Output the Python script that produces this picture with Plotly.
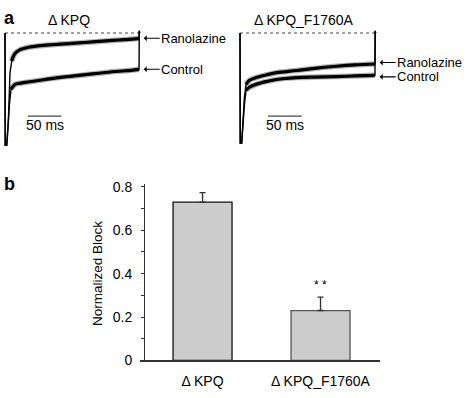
import plotly.graph_objects as go

# ---------------- data ----------------
# Panel a: normalized sodium currents (0 = dotted zero line, -1 = peak), time in ms
t_kpq_ran = [0, 0.3, 2.5, 5, 7.5, 10, 12.5, 16, 22, 35, 50, 70, 90, 110, 130, 150, 170, 190, 200, 200.3, 201]
i_kpq_ran = [0, -1.0, -1.0, -0.78, -0.35, -0.25, -0.207, -0.175, -0.15, -0.127, -0.114, -0.104, -0.096,
             -0.088, -0.079, -0.07, -0.062, -0.054, -0.047, 0.02, 0]

t_kpq_ctl = [0, 0.3, 2.5, 3.5, 6.5, 9, 15, 22, 30, 45, 60, 80, 100, 120, 140, 160, 180, 200, 200.3, 201]
i_kpq_ctl = [0, -1.0, -1.0, -0.93, -0.64, -0.5, -0.457, -0.448, -0.44, -0.427, -0.414, -0.397, -0.384,
             -0.371, -0.358, -0.345, -0.336, -0.323, 0.02, 0]

t_f1760a = [0, 0.3, 2.5, 4.5, 6.5, 9, 14, 24, 40, 54, 84, 110, 143, 170, 200, 200.3, 201]
i_f1760a_ran = [0, -0.98, -0.98, -0.74, -0.57, -0.457, -0.42, -0.397, -0.371, -0.353, -0.334, -0.315,
                -0.296, -0.284, -0.276, 0.02, 0]
i_f1760a_ctl = [0, -0.98, -0.98, -0.784, -0.638, -0.509, -0.483, -0.457, -0.431, -0.414, -0.397, -0.392,
                -0.388, -0.382, -0.377, 0.02, 0]

pulse_ms = [0, 200]
scalebar_ms = 50
scalebar_start = [34, 41.5]

# Panel b: normalized block
bar_categories = ["Δ KPQ", "Δ KPQ_F1760A"]
block_mean = [0.729, 0.23]
block_sem = [0.044, 0.062]
y_tickvals = [0, 0.1, 0.2, 0.3, 0.4, 0.5, 0.6, 0.7, 0.8]
y_ticktext = ["0", "", "0.2", "", "0.4", "", "0.6", "", "0.8"]

# ---------------- figure ----------------
W, H = 472, 398
FONT = "Liberation Sans, Arial, sans-serif"
FS = 14
fig = go.Figure()


def add_panel(xa, ya, series):
    # zero (dotted) line
    fig.add_trace(go.Scatter(x=pulse_ms, y=[0, 0], mode="lines", xaxis=xa, yaxis=ya,
                             line=dict(color="#444", width=1.1, dash="dot"), hoverinfo="skip"))
    for tt, ii in series:
        band_t = [a for a in tt if 8.5 <= a <= 200]
        band_i = [b for a, b in zip(tt, ii) if 8.5 <= a <= 200]
        fig.add_trace(go.Scatter(x=tt, y=ii, mode="lines", xaxis=xa, yaxis=ya,
                                 line=dict(color="black", width=1.4), hoverinfo="skip"))
        fig.add_trace(go.Scatter(x=band_t, y=band_i, mode="lines", xaxis=xa, yaxis=ya,
                                 line=dict(color="rgba(0,0,0,0.3)", width=5.5, shape="spline"),
                                 hoverinfo="skip"))
        fig.add_trace(go.Scatter(x=band_t, y=band_i, mode="lines", xaxis=xa, yaxis=ya,
                                 line=dict(color="black", width=3.2, shape="spline"), hoverinfo="skip"))


add_panel("x", "y", [(t_kpq_ran, i_kpq_ran), (t_kpq_ctl, i_kpq_ctl)])
add_panel("x2", "y2", [(t_f1760a, i_f1760a_ran), (t_f1760a, i_f1760a_ctl)])

fig.add_trace(go.Bar(x=bar_categories, y=block_mean, xaxis="x3", yaxis="y3", width=0.5,
                     marker=dict(color="#cccccc", line=dict(color=["#111111", "#555555"], width=1.3)),
                     error_y=dict(type="data", array=block_sem, arrayminus=[0, 0], symmetric=False,
                                  color="#333", thickness=1.4, width=3),
                     hoverinfo="skip"))

trace_range_x = [-3, 215]
trace_range_y = [-1.05, 0.05]
hidden = dict(visible=False, showgrid=False, zeroline=False, fixedrange=True)

fig.update_layout(
    width=W, height=H, margin=dict(l=0, r=0, t=0, b=0),
    paper_bgcolor="white", plot_bgcolor="rgba(0,0,0,0)", showlegend=False,
    font=dict(family=FONT, size=FS, color="black"),
    xaxis=dict(domain=[3 / W, 149.1 / W], range=trace_range_x, anchor="y", **hidden),
    yaxis=dict(domain=[(H - 150.8) / H, (H - 23.2) / H], range=trace_range_y, anchor="x", **hidden),
    xaxis2=dict(domain=[238 / W, 385.1 / W], range=trace_range_x, anchor="y2", **hidden),
    yaxis2=dict(domain=[(H - 150.8) / H, (H - 23.2) / H], range=trace_range_y, anchor="x2", **hidden),
    xaxis3=dict(domain=[140 / W, 380 / W], range=[-0.53, 1.504], anchor="y3", type="category",
                showline=True, linecolor="#333", linewidth=1.2, ticks="", showgrid=False,
                zeroline=False, ticklabelstandoff=8, tickfont=dict(size=FS), fixedrange=True),
    yaxis3=dict(domain=[30.5 / H, 213 / H], range=[0, 0.813], anchor="free", position=144 / W,
                showline=True, linecolor="#333", linewidth=1.2, ticks="outside", ticklen=3,
                tickcolor="#333", tickvals=y_tickvals, ticktext=y_ticktext, showgrid=False,
                zeroline=False, ticklabelstandoff=6, tickfont=dict(size=FS), fixedrange=True),
    bargap=0,
)

ann = []
# panel letters
ann.append(dict(text="<b>a</b>", x=2 / W, y=1 - 13 / H, xref="paper", yref="paper", xanchor="left",
                yanchor="middle", showarrow=False, font=dict(size=18)))
ann.append(dict(text="<b>b</b>", x=2 / W, y=1 - 185 / H, xref="paper", yref="paper", xanchor="left",
                yanchor="middle", showarrow=False, font=dict(size=18)))
# panel titles
for xr, title in [("x", "Δ KPQ"), ("x2", "Δ KPQ_F1760A")]:
    ann.append(dict(text=title, x=95, y=1 - 15 / H, xref=xr, yref="paper", showarrow=False,
                    xanchor="center", yanchor="middle"))
# scale bars
for k, (xr, yr) in enumerate([("x", "y"), ("x2", "y2")]):
    x0 = scalebar_start[k]
    fig.add_shape(type="line", xref=xr, yref=yr, x0=x0, x1=x0 + scalebar_ms, y0=-0.74, y1=-0.74,
                  line=dict(color="#444", width=1.2))
    ann.append(dict(text=f"{scalebar_ms} ms", x=x0 + scalebar_ms / 2, y=-0.815, xref=xr, yref=yr,
                    showarrow=False, xanchor="center", yanchor="middle"))
# arrow labels
for xr, yr, ser in [("x", "y", [("Ranolazine", t_kpq_ran, i_kpq_ran), ("Control", t_kpq_ctl, i_kpq_ctl)]),
                    ("x2", "y2", [("Ranolazine", t_f1760a, i_f1760a_ran), ("Control", t_f1760a, i_f1760a_ctl)])]:
    for k, (name, tt, ii) in enumerate(ser):
        idx = tt.index(200)
        ann.append(dict(text=name, x=tt[idx] + 7, y=ii[idx], xref=xr, yref=yr, ax=16, ay=0,
                        yshift=(1.5 if k == 0 else -1.5) if xr == "x2" else 0,
                        xanchor="left", yanchor="middle", showarrow=True, arrowhead=1, arrowsize=0.9,
                        arrowwidth=1.1, arrowcolor="black", standoff=0, borderpad=0,
                        font=dict(size=13)))
# y title bar chart
ann.append(dict(text="Normalized Block", x=98 / W, y=1 - 278 / H, xref="paper", yref="paper",
                textangle=-90, showarrow=False, xanchor="center", yanchor="middle",
                font=dict(size=13.5)))
# significance
ann.append(dict(text="* *", x=1, y=block_mean[1] + block_sem[1], xref="x3", yref="y3", yshift=12,
                showarrow=False, xanchor="center", yanchor="middle", font=dict(size=12)))

fig.update_layout(annotations=ann)
fig.write_html("out.html", config={"displayModeBar": False, "staticPlot": True},
               post_script="document.body.style.margin='0px';")
